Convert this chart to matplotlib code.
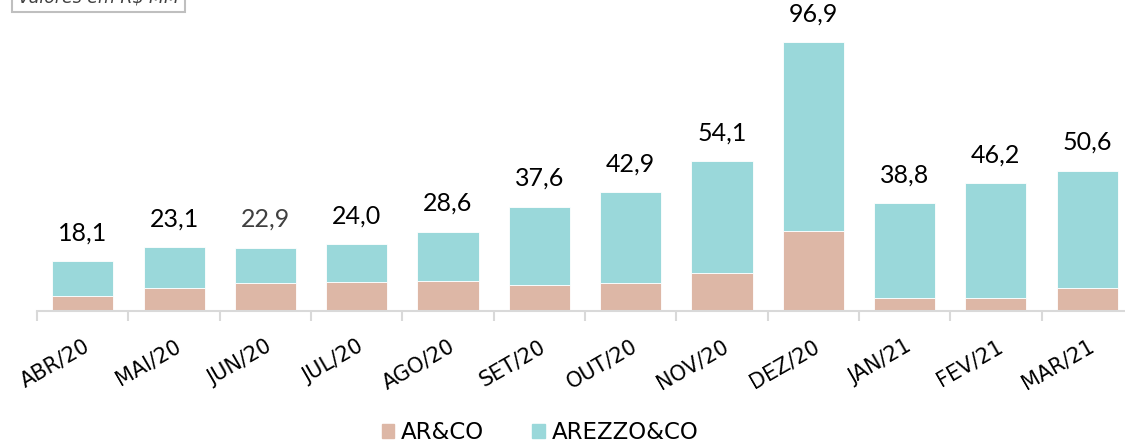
import matplotlib.pyplot as plt
import numpy as np
from matplotlib.patches import Patch

# Monthly values (R$ MM)
months = ["ABR/20", "MAI/20", "JUN/20", "JUL/20", "AGO/20", "SET/20",
          "OUT/20", "NOV/20", "DEZ/20", "JAN/21", "FEV/21", "MAR/21"]
totals = [18.1, 23.1, 22.9, 24.0, 28.6, 37.6, 42.9, 54.1, 96.9, 38.8, 46.2, 50.6]
arco = [5.5, 8.4, 10.3, 10.6, 11.0, 9.5, 10.0, 13.6, 28.9, 4.6, 4.7, 8.2]
arezzo = [t - a for t, a in zip(totals, arco)]

tan = '#ddb7a6'
teal = '#9ad8da'

plt.rcParams['font.family'] = ['DejaVu Sans']

fig = plt.figure(figsize=(11.25, 4.47), dpi=100)
ax = fig.add_axes([0.033, 0.304, 0.974, 0.696])

x = np.arange(len(months))
ax.bar(x, arco, width=0.67, color=tan, edgecolor='white', linewidth=0.6)
ax.bar(x, arezzo, bottom=arco, width=0.67, color=teal, edgecolor='white', linewidth=0.6)

for i, t in enumerate(totals):
    col = '#404040' if months[i] == "JUN/20" else 'black'
    ax.text(x[i], t + 6.0, f"{t:.1f}".replace('.', ','), ha='center', va='bottom',
            fontsize=18, color=col, family=['Lato', 'DejaVu Sans'])

ax.set_xlim(-0.5, len(months) - 0.5)
ax.set_ylim(0, 112)
ax.set_yticks([])
for s in ['top', 'right', 'left']:
    ax.spines[s].set_visible(False)
ax.spines['bottom'].set_color('#d9d9d9')
ax.spines['bottom'].set_linewidth(1.5)

ax.set_xticks(x)
ax.set_xticklabels(months, rotation=30, ha='right', rotation_mode='anchor', fontsize=15)
ax.tick_params(axis='x', which='major', length=0, pad=18)
ax.set_xticks(np.arange(-0.5, len(months), 1.0), minor=True)
ax.tick_params(axis='x', which='minor', length=7, width=1.5, color='#d9d9d9')

handles = [Patch(color=tan, label='AR&CO'), Patch(color=teal, label='AREZZO&CO')]
fig.legend(handles=handles, loc='lower center', bbox_to_anchor=(0.48, -0.04), ncol=2,
           frameon=False, fontsize=16.5, handlelength=0.55, handleheight=0.55,
           handletextpad=0.3, columnspacing=2.1)

fig.text(0.016, 1.006, "Valores em R$ MM", fontsize=12.5, style='italic', color='#404040',
         ha='left', va='center',
         bbox=dict(boxstyle='square,pad=0.35', facecolor='white', edgecolor='#bfbfbf', linewidth=1.5))

fig.savefig('out.png', dpi=100)
